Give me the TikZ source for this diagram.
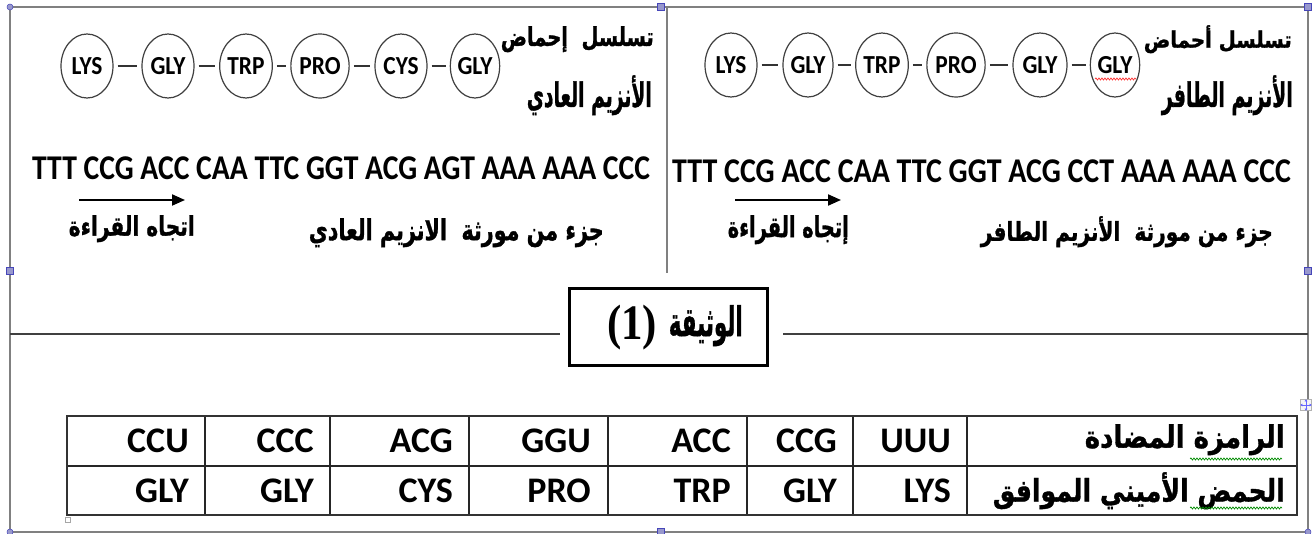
\documentclass[tikz,border=0pt]{standalone}
\usepackage{fontspec}
\usepackage{graphicx}
\usetikzlibrary{shapes.geometric,arrows.meta,decorations.pathmorphing}
\TeXXeTstate=1
\newfontfamily\arab[Script=Arabic,BoldFeatures={FakeBold=1.2}]{DejaVu Sans}
\newfontfamily\latf{Carlito}
\newfontfamily\serf{Liberation Serif}
\newcommand\arfit[3]{\resizebox*{#1pt}{#2pt}{\arab\bfseries #3}}
\newcommand\lafit[3]{\resizebox*{#1pt}{#2pt}{\latf\bfseries #3}}
\newcommand\amtxt[1]{\scalebox{0.9}[1]{#1}}
\begin{document}
\begin{tikzpicture}[x=1pt,y=-1pt,
  frame/.style={draw=black!50,line width=1.6pt},
  amino/.style={ellipse,draw=black!75,line width=1.2pt,minimum width=52pt,minimum height=64pt,inner sep=0pt,font=\latf\bfseries\fontsize{26}{26}\selectfont},
  bond/.style={draw=black!80,line width=1.3pt,shorten <=4pt,shorten >=4pt},
  txt/.style={inner sep=0pt,anchor=north east},
  txtl/.style={inner sep=0pt,anchor=north west},
  cell/.style={inner sep=0pt,anchor=base east,font=\latf\bfseries\fontsize{36}{36}\selectfont},
  handle/.style={fill=blue!35!gray!60,draw=blue!45!gray,line width=0.5pt,minimum size=7pt,inner sep=0pt},
  readarrow/.style={line width=2pt,-{Triangle[length=13pt,width=11pt]}},
  squig/.style={line width=0.7pt,decorate,decoration={snake,amplitude=1pt,segment length=3pt}},
  tline/.style={line width=1.1pt,draw=black!85}]
\useasboundingbox (0,0) rectangle (1315,534);
\fill[white] (0,0) rectangle (1315,534);

% ---- outer frame ----
\coordinate (F1) at (10,7);
\coordinate (F2) at (1308,532);
\draw[frame] (F1) rectangle (F2);
\coordinate (V1) at (666.5,7);
\coordinate (V2) at (666.5,273);
\draw[frame,line width=2pt] (V1) -- (V2);

% ---- left panel: normal enzyme ----
\node[amino] (l1) at (87,66) {\amtxt{LYS}};
\node[amino] (l2) at (168,66) {\amtxt{GLY}};
\node[amino,minimum width=49pt] (l3) at (246,66) {\amtxt{TRP}};
\node[amino] (l4) at (320,66) {\amtxt{PRO}};
\node[amino] (l5) at (401,66) {\amtxt{CYS}};
\node[amino,minimum width=48pt] (l6) at (475,66) {\amtxt{GLY}};
\draw[bond] (l1) -- (l2);
\draw[bond] (l2) -- (l3);
\draw[bond] (l3) -- (l4);
\draw[bond] (l4) -- (l5);
\draw[bond] (l5) -- (l6);

\node[txt] (lh1) at (654,26) {\arfit{153}{26}{\beginR تسلسل\ \ إحماض\endR}};
\node[txt] (lh2) at (652,75) {\arfit{125}{40}{\beginR الأنزيم العادي\endR}};
\node[txtl] (lseq) at (32,157) {\lafit{618}{23}{TTT CCG ACC CAA TTC GGT ACG AGT AAA AAA CCC}};
\coordinate (la0) at (79,200);
\coordinate (la1) at (185,200);
\draw[readarrow] (la0) -- (la1);
\node[txt] (lread) at (195,215) {\arfit{126}{27}{\beginR اتجاه القراءة\endR}};
\node[txt] (lgene) at (604,218) {\arfit{295}{29}{\beginR جزء من مورثة\ \ الانزيم العادي\endR}};

% ---- right panel: mutant enzyme ----
\node[amino] (r1) at (731,65) {\amtxt{LYS}};
\node[amino,minimum width=50pt] (r2) at (808,65) {\amtxt{GLY}};
\node[amino,minimum width=45pt] (r3) at (882,65) {\amtxt{TRP}};
\node[amino,minimum width=54pt] (r4) at (956,65) {\amtxt{PRO}};
\node[amino,minimum width=54pt] (r5) at (1040,65) {\amtxt{GLY}};
\node[amino,minimum width=47pt] (r6) at (1115,65) {\amtxt{GLY}};
\draw[bond] (r1) -- (r2);
\draw[bond] (r2) -- (r3);
\draw[bond] (r3) -- (r4);
\draw[bond] (r4) -- (r5);
\draw[bond] (r5) -- (r6);
\coordinate (sq1) at (1095,79);
\coordinate (sq2) at (1136,79);
\draw[squig,red!80] (sq1) -- (sq2);

\node[txt] (rh1) at (1292,25) {\arfit{148}{28}{\beginR تسلسل أحماض\endR}};
\node[txt] (rh2) at (1293,75) {\arfit{131}{40}{\beginR الأنزيم الطافر\endR}};
\node[txtl] (rseq) at (672,160) {\lafit{619}{23}{TTT CCG ACC CAA TTC GGT ACG CCT AAA AAA CCC}};
\coordinate (ra0) at (735,200);
\coordinate (ra1) at (841,200);
\draw[readarrow] (ra0) -- (ra1);
\node[txt] (rread) at (849,215) {\arfit{121}{29}{\beginR إتجاه القراءة\endR}};
\node[txt] (rgene) at (1273,216) {\arfit{292}{31}{\beginR جزء من مورثة\ \ الأنزيم الطافر\endR}};

% ---- separator and document label ----
\coordinate (H1) at (10,334);
\coordinate (H2) at (560,334);
\coordinate (H3) at (783,334);
\coordinate (H4) at (1308,334);
\draw[line width=1.8pt,black!75] (H1) -- (H2);
\draw[line width=1.8pt,black!75] (H3) -- (H4);
\node[draw=black,line width=3.5pt,fill=white,minimum width=198pt,minimum height=77pt,inner sep=0pt] (doc) at (668.5,327) {};
\node[txtl] (docnum) at (607,305) {\resizebox*{50pt}{45pt}{\serf\bfseries (1)}};
\node[txt] (doctxt) at (743,305) {\arfit{74}{41}{\beginR الوثيقة\endR}};

% ---- table ----
\foreach \x in {205,330,469,608,747,853,967}
  \draw[tline] (\x,416) -- (\x,515);
\draw[tline] (67,466) -- (1297,466);
\draw[line width=2pt,draw=black!80] (67,416) rectangle (1297,515);

\node[cell] (c11) at (189,452.5) {CCU};
\node[cell] (c12) at (314,452.5) {CCC};
\node[cell] (c13) at (453,452.5) {ACG};
\node[cell] (c14) at (591,452.5) {GGU};
\node[cell] (c15) at (731,452.5) {ACC};
\node[cell] (c16) at (837,452.5) {CCG};
\node[cell] (c17) at (951,452.5) {UUU};
\node[cell] (c21) at (189,502) {GLY};
\node[cell] (c22) at (314,502) {GLY};
\node[cell] (c23) at (453,502) {CYS};
\node[cell] (c24) at (591,502) {PRO};
\node[cell] (c25) at (731,502) {TRP};
\node[cell] (c26) at (837,502) {GLY};
\node[cell] (c27) at (951,502) {LYS};
\node[txt] (t1) at (1285,424) {\arfit{200}{31}{\beginR الرامزة المضادة\endR}};
\node[txt] (t2) at (1285,472) {\arfit{292}{37}{\beginR الحمض الأميني الموافق\endR}};
\coordinate (g1) at (1190,459);
\coordinate (g2) at (1282,459);
\coordinate (g3) at (1190,508);
\coordinate (g4) at (1282,508);
\draw[squig,green!55!black] (g1) -- (g2);
\draw[squig,green!55!black] (g3) -- (g4);

% ---- selection handles ----
\node[handle,circle,minimum size=6pt] (h1) at (10,7) {};
\node[handle] (h2) at (661,7) {};
\node[handle] (h3) at (1308,7) {};
\node[handle] (h4) at (10,271) {};
\node[handle] (h5) at (1308,271) {};
\node[handle,circle,minimum size=6pt] (h6) at (10,532) {};
\node[handle] (h7) at (661,532) {};
\node[handle,circle,minimum size=6pt] (h8) at (1308,532) {};
\node[draw=gray!60,fill=gray!8,minimum size=11pt,inner sep=0pt] (mv) at (1306,405) {};
\draw[blue!60,line width=0.6pt,{Triangle[length=2pt,width=2.5pt]}-{Triangle[length=2pt,width=2.5pt]}] (mv.west) -- (mv.east);
\draw[blue!60,line width=0.6pt,{Triangle[length=2pt,width=2.5pt]}-{Triangle[length=2pt,width=2.5pt]}] (mv.north) -- (mv.south);
\node[draw=gray!70,fill=white,minimum size=5pt,inner sep=0pt] (rs) at (68,520) {};
\end{tikzpicture}
\end{document}
